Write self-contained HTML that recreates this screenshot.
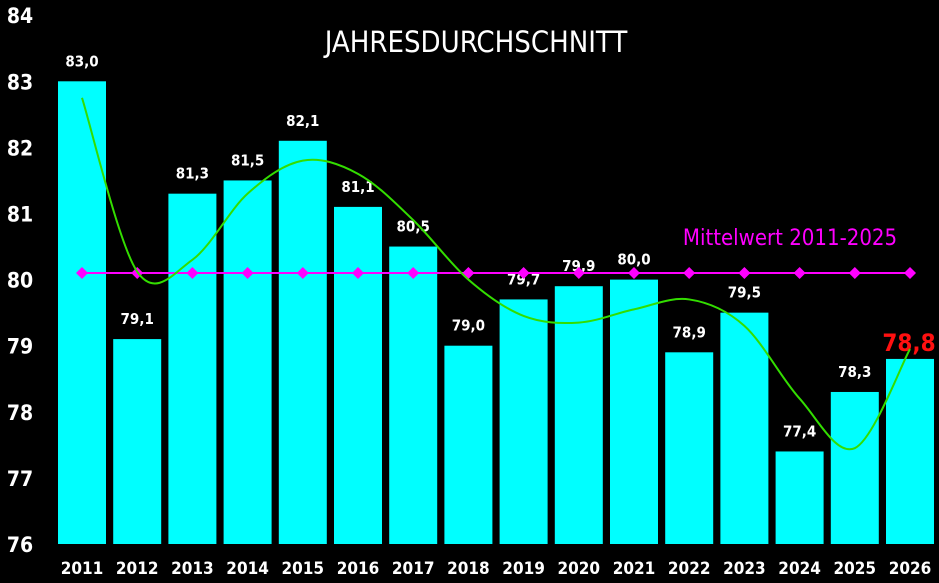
<!DOCTYPE html>
<html><head><meta charset="utf-8"><style>
body{margin:0;background:#000;}
svg text{font-family:"DejaVu Sans Condensed","DejaVu Sans","Liberation Sans",sans-serif;font-weight:bold;fill:#fff;}
</style></head><body>
<svg id="chart" width="939" height="578" viewBox="0 0 939 578" xmlns="http://www.w3.org/2000/svg">
<rect width="939" height="578" fill="#000"/>
<text x="476" y="52" font-size="29" text-anchor="middle" style="font-weight:normal">JAHRESDURCHSCHNITT</text>
<text x="790" y="245" font-size="22" text-anchor="middle" style="fill:#ff00ff;font-weight:normal">Mittelwert 2011-2025</text>
<g id="axis"></g><g id="bars"></g><g id="lines"></g>
</svg>
<script>
const years=["2011","2012","2013","2014","2015","2016","2017","2018","2019","2020","2021","2022","2023","2024","2025","2026"];
const values=[83.0,79.1,81.3,81.5,82.1,81.1,80.5,79.0,79.7,79.9,80.0,78.9,79.5,77.4,78.3,78.8];
const trend=[82.75,80.12,80.3,81.3,81.8,81.6,80.9,80.0,79.45,79.35,79.55,79.7,79.3,78.2,77.45,78.95];
const meanValue=80.1;
const yTicks=[76,77,78,79,80,81,82,83,84];
const NS="http://www.w3.org/2000/svg";
const y=v=>544-(v-76)*66.1;
const x=i=>82+i*55.2;
function mk(t,a,p){const e=document.createElementNS(NS,t);for(const k in a)e.setAttribute(k,a[k]);p.appendChild(e);return e;}
const ax=document.getElementById('axis'),bg=document.getElementById('bars'),lg=document.getElementById('lines');
yTicks.forEach(t=>{const e=mk('text',{x:20,y:y(t)+8,'font-size':21,'text-anchor':'middle'},ax);e.textContent=t;

});
years.forEach((yr,i)=>{
 const top=y(values[i]);
 const r=mk('rect',{x:x(i)-24,y:top,width:48,height:544-top,fill:'#00ffff'},bg);
 
 
 const last=i===years.length-1;
 const l=mk('text',{x:x(i)+(last?-1:0),y:top-(last?8:15),'font-size':last?24:15,'text-anchor':'middle'},bg);
 if(last)l.setAttribute('style','fill:#ff1010');
 l.textContent=values[i].toFixed(1).replace('.',',');
 
 
 const xl=mk('text',{x:x(i),y:574,'font-size':17,'text-anchor':'middle'},ax);
 xl.textContent=yr;
 
 
});
const ml=mk('line',{x1:x(0),x2:x(15),y1:y(meanValue),y2:y(meanValue),stroke:'#ff00ff','stroke-width':2},lg);


years.forEach((yr,i)=>{const cx=x(i),cy=y(meanValue);
 const d=mk('polygon',{points:`${cx},${cy-6} ${cx+6},${cy} ${cx},${cy+6} ${cx-6},${cy}`,fill:'#ff00ff'},lg);
 
 });
const P=trend.map((v,i)=>[x(i),y(v)]);
let d=`M${P[0][0]},${P[0][1]}`;
for(let i=0;i<P.length-1;i++){const p0=P[Math.max(0,i-1)],p1=P[i],p2=P[i+1],p3=P[Math.min(P.length-1,i+2)];
 d+=` C${p1[0]+(p2[0]-p0[0])/6},${p1[1]+(p2[1]-p0[1])/6} ${p2[0]-(p3[0]-p1[0])/6},${p2[1]-(p3[1]-p1[1])/6} ${p2[0]},${p2[1]}`;}
const tl=mk('path',{d:d,fill:'none',stroke:'#33dd00','stroke-width':2},lg);


</script>
</body></html>
